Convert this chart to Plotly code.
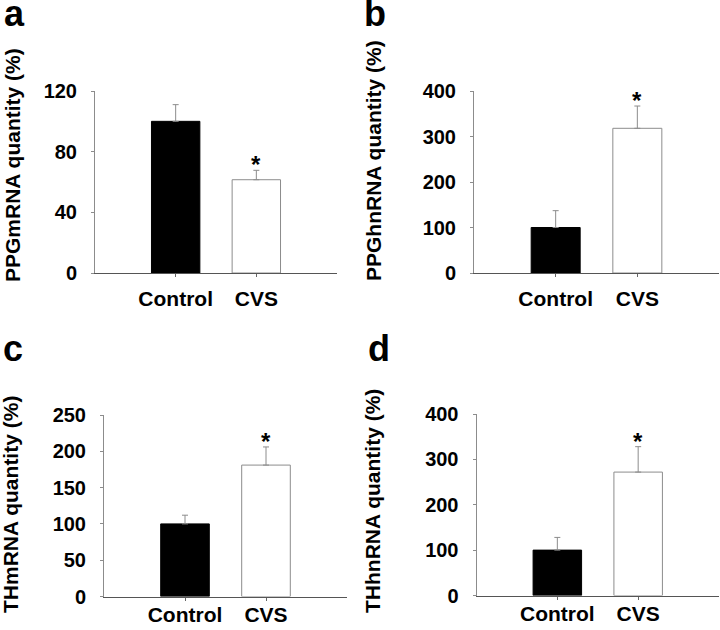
import plotly.graph_objects as go

categories = ["Control", "CVS"]

panel_letters = ["a", "b", "c", "d"]
y_titles = ["PPGmRNA quantity (%)", "PPGhnRNA quantity (%)",
            "THmRNA quantity (%)", "THhnRNA quantity (%)"]

ppg_m_values = [100, 61.5]
ppg_m_errors = [11, 6.2]
ppg_hn_values = [100, 318]
ppg_hn_errors = [37, 49]
th_m_values = [100, 181]
th_m_errors = [12, 25]
th_hn_values = [100, 272]
th_hn_errors = [28, 56]

y_maxes = [120, 400, 250, 400]
y_dticks = [40, 100, 50, 100]

values_list = [ppg_m_values, ppg_hn_values, th_m_values, th_hn_values]
errors_list = [ppg_m_errors, ppg_hn_errors, th_m_errors, th_hn_errors]

W, H = 720, 630
# plot areas in pixels: (x0, x1, ytop, ybottom)
areas = [(95, 337, 91, 273), (474, 719, 91, 273),
         (104, 347, 415, 596.5), (476.5, 719, 414, 595.5)]
xlabel_standoff = [4, 4, -4, -4]
title_pos = [(13, 165), (373, 161), (10, 505), (372, 501)]
letter_pos = [(2, 28), (362, 28), (1, 363), (366, 363)]

FONT = "Liberation Sans, Arial, sans-serif"

fig = go.Figure()
layout = dict(width=W, height=H, margin=dict(l=0, r=0, t=0, b=0),
              paper_bgcolor="white", plot_bgcolor="white", showlegend=False,
              font=dict(family=FONT, color="black", weight="bold"))
annotations = []

for i in range(4):
    sx = "" if i == 0 else str(i + 1)
    xa, ya = "x" + sx, "y" + sx
    vals, errs = values_list[i], errors_list[i]
    fig.add_trace(go.Bar(
        x=[0, 1], y=vals, width=0.6,
        marker=dict(color=["black", "white"],
                    line=dict(color=["black", "#8c8c8c"], width=1)),
        error_y=dict(type="data", symmetric=False, array=errs,
                     arrayminus=[0, 0], color="#8c8c8c", thickness=1, width=3),
        xaxis=xa, yaxis=ya, hoverinfo="skip"))
    x0, x1, yt, yb = areas[i]
    layout["xaxis" + sx] = dict(
        domain=[x0 / W, x1 / W], range=[-1, 2], anchor=ya,
        tickmode="array", tickvals=[0, 1], ticktext=categories,
        ticks="outside", ticklen=3, tickcolor="#666666", tickwidth=1,
        showline=True, linecolor="#555555", linewidth=1,
        showgrid=False, zeroline=False, automargin=False,
        tickfont=dict(size=21, family=FONT, color="black", weight="bold"),
        ticklabelstandoff=xlabel_standoff[i], fixedrange=True)
    layout["yaxis" + sx] = dict(
        domain=[(H - yb) / H, (H - yt) / H], range=[0, y_maxes[i]], anchor=xa,
        tickmode="linear", tick0=0, dtick=y_dticks[i],
        ticks="outside", ticklen=3, tickcolor="#8c8c8c", tickwidth=1,
        showline=True, linecolor="#8c8c8c", linewidth=1,
        showgrid=False, zeroline=False, automargin=False,
        tickfont=dict(size=20, family=FONT, color="black", weight="bold"),
        ticklabelstandoff=10, fixedrange=True)
    # significance asterisk
    annotations.append(dict(
        x=1, y=vals[1] + errs[1], xref=xa, yref=ya, text="*",
        showarrow=False, yanchor="bottom", yshift=-10,
        font=dict(size=24, family=FONT, color="black", weight="bold")))
    tx, ty = title_pos[i]
    annotations.append(dict(
        x=tx / W, y=(H - ty) / H, xref="paper", yref="paper",
        text=y_titles[i], textangle=-90, showarrow=False,
        xanchor="center", yanchor="middle",
        font=dict(size=21, family=FONT, color="black", weight="bold")))
    lx, ly = letter_pos[i]
    annotations.append(dict(
        x=lx / W, y=(H - ly) / H, xref="paper", yref="paper",
        text=panel_letters[i], showarrow=False,
        xanchor="left", yanchor="bottom", yshift=-8,
        font=dict(size=36, family=FONT, color="black", weight="bold")))

layout["annotations"] = annotations
fig.update_layout(**layout)
fig.write_html("out.html", config={"displayModeBar": False},
               post_script="document.body.style.margin='0';"
                           "document.body.style.overflow='hidden';")
